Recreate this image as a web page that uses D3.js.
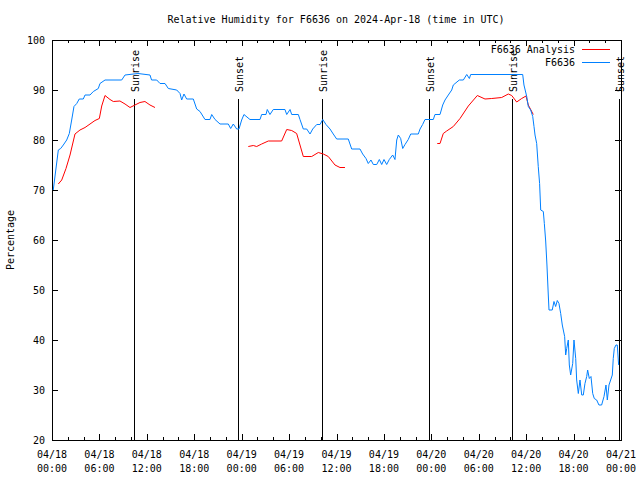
<!DOCTYPE html>
<html><head><meta charset="utf-8">
<script src="https://cdn.jsdelivr.net/npm/d3@7"></script>
<style>
body{margin:0;background:#fff;}
svg text{font-family:"DejaVu Sans Mono",monospace;font-size:10px;fill:#000;}
</style></head>
<body><svg id="c" width="640" height="480"></svg>
<script>
// ---- data (hours since 2024-04-18 00:00 UTC) ----
const titleText = "Relative Humidity for F6636 on 2024-Apr-18 (time in UTC)";
const yTicks = [20,30,40,50,60,70,80,90,100];
const xTickHours = [0,6,12,18,24,30,36,42,48,54,60,66,72];
const sunHours = [10.43, 23.66, 34.29, 47.74, 58.33, 71.83];
const sunLabels = ["Sunrise","Sunset","Sunrise","Sunset","Sunrise","Sunset"];

const obsHours = [0.16,0.8,1.1,1.43,1.86,2.19,2.49,2.78,3.13,3.45,3.96,4.18,4.81,5.23,5.86,6.07,6.71,8.82,9.24,10.88,12.4,12.6,13.25,13.67,14.3,14.72,15.78,16.2,16.41,16.7,17.04,17.88,18.31,18.73,19.36,19.99,20.21,20.63,21.26,22.31,22.61,22.94,23.37,23.66,24.0,24.29,25.05,26.32,26.53,27.08,27.24,27.58,28.0,29.48,29.7,30.12,30.33,31.17,31.38,31.8,32.23,32.65,32.99,33.5,33.92,34.26,34.67,35.18,35.59,36.02,37.49,37.92,38.97,39.31,39.73,40.02,40.36,40.66,41.09,41.42,41.72,42.01,42.35,42.68,43.11,43.4,43.62,43.82,44.12,44.38,44.67,45.08,45.39,46.35,46.57,46.9,47.2,48.25,48.46,49.1,49.44,49.73,50.15,50.58,50.78,51.54,52.05,52.48,52.81,52.98,59.56,59.72,60.07,60.27,60.57,60.83,60.99,61.12,61.33,61.53,61.7,61.84,62.17,62.3,62.47,62.63,62.8,62.89,63.3,63.52,63.73,63.94,64.15,64.37,64.57,64.7,64.87,65.0,65.13,65.33,65.46,65.63,65.89,66.05,66.27,66.39,66.6,66.81,67.03,67.23,67.44,67.66,67.78,67.99,68.2,68.42,68.62,68.92,69.21,69.55,69.85,70.1,70.27,70.48,70.69,70.9,71.02,71.15,71.36,71.53,71.7];
const obsRH = [70,78,78.3,79,80,81.3,84,86.7,87.3,88.2,88.2,89,89,89.7,90.3,91.3,92,92,93,93.3,93,92,92,91.3,91.3,90.3,90,89.3,88,89.2,88.2,88.2,86.2,85.7,84.1,84.1,85.1,84.1,83.2,83.2,82.3,83.2,82.2,82.2,84,85.1,84.1,84.1,85.1,85.1,86.1,85.1,86.1,86.1,85.1,86.1,85.1,85.1,84.1,82.2,82.2,81.2,82.2,83.1,83.1,84.1,83.1,82.2,81.2,80.2,80.2,78.2,78.2,77.2,76.3,75.3,76,75.1,75.1,76.1,75.1,76.1,75.1,76.1,77,76.1,80,81,80.3,78.3,79.1,80.1,81.2,81.2,82.2,83.1,84.1,84.1,85.1,85.1,87,88,89,90,91,92,92,93.1,92.3,93.1,93.1,91,88.7,86.7,86,84.7,82.7,81,79.3,74.7,71.3,66,65.7,63.3,59.8,55,49,46,46,47.7,46.7,47.9,47.3,45.3,43,42,40.7,37,38.3,40,35,33,35.3,40,36.3,32,29.3,32,29,29,31.3,32.7,34,32.3,32.7,29.3,28.3,28,27,27,28.7,31,28,31,32,33,36.3,38.3,39,39,35];

// analysis: null marks a gap between runs
const anaHours = [0.8,1.23,1.77,2.28,2.91,3.54,4.18,4.81,5.44,5.99,6.29,6.71,7.34,7.76,8.6,9.24,9.87,10.5,11.13,11.76,12.4,13.03,
  18,
  24.84,25.47,25.9,26.53,27.37,29.06,29.7,30.33,30.96,31.38,31.8,32.86,33.7,34.33,34.96,35.81,36.44,37.07,
  42,
  48.75,49.1,49.51,49.94,50.78,51.63,52.68,53.82,54.79,55.64,56.9,57.74,58.17,58.8,59.43,59.98,60.27,60.9];
const anaRH = [71.2,72,74.3,77,81.2,82,82.5,83.2,83.9,84.3,86.8,88.9,88.1,87.7,87.8,87.2,86.5,87,87.5,87.7,87,86.5,
  null,
  78.7,78.9,78.7,79.2,79.8,79.8,82.1,81.9,81.3,79,76.7,76.7,77.5,77.2,76.7,75,74.5,74.5,
  null,
  79.3,79.3,81.3,81.8,82.7,84.3,86.8,88.9,88.2,88.3,88.5,89.2,88.9,87.6,88.3,88.8,87,85.1];

const seriesNames = ["F6636 Analysis","F6636"];
const seriesColors = ["#ff0000","#0080ff"];

// ---- drawing ----
const t0 = Date.UTC(2024,3,18,0,0);
const toDate = h => new Date(t0 + h*3600000);
const W=640,H=480, L=52, R=621, T=40, B=440;
const svg = d3.select("#c");
const x = d3.scaleUtc().domain([toDate(0), toDate(72)]).range([L, R]);
const y = d3.scaleLinear().domain([20,100]).range([B, T]);

svg.append("text").attr("x", 336).attr("y", 23).attr("text-anchor","middle").text(titleText);

const g = svg.append("g").attr("shape-rendering","crispEdges");

// minor x ticks (every 2h) bottom & top
const minorDates = d3.range(0,73,2).map(toDate);
const majorDates = xTickHours.map(toDate);
g.append("g").attr("transform",`translate(0,${B})`)
  .call(d3.axisTop(x).tickValues(minorDates).tickSize(3).tickFormat(""))
  .call(a=>a.select(".domain").remove());
g.append("g").attr("transform",`translate(0,${T})`)
  .call(d3.axisBottom(x).tickValues(minorDates).tickSize(3).tickFormat(""))
  .call(a=>a.select(".domain").remove());
// major x ticks
const fmtD = d3.utcFormat("%m/%d"), fmtT = d3.utcFormat("%H:%M");
const xb = g.append("g").attr("transform",`translate(0,${B})`)
  .call(d3.axisTop(x).tickValues(majorDates).tickSize(6).tickFormat(""))
  .call(a=>a.select(".domain").remove());
g.append("g").attr("transform",`translate(0,${T})`)
  .call(d3.axisBottom(x).tickValues(majorDates).tickSize(6).tickFormat(""))
  .call(a=>a.select(".domain").remove());
const xl = svg.append("g");
majorDates.forEach(d=>{
  const t = xl.append("text").attr("x", x(d)).attr("text-anchor","middle");
  t.append("tspan").attr("x", x(d)).attr("y", 458).text(fmtD(d));
  t.append("tspan").attr("x", x(d)).attr("y", 472).text(fmtT(d));
});

// y ticks left & right
g.append("g").attr("transform",`translate(${L},0)`)
  .call(d3.axisRight(y).tickValues(yTicks).tickSize(6).tickFormat(""))
  .call(a=>a.select(".domain").remove());
g.append("g").attr("transform",`translate(${R},0)`)
  .call(d3.axisLeft(y).tickValues(yTicks).tickSize(6).tickFormat(""))
  .call(a=>a.select(".domain").remove());
yTicks.forEach(v=>{
  svg.append("text").attr("x", 45).attr("y", y(v)).attr("dy","0.35em")
    .attr("text-anchor","end").text(v);
});
svg.append("text").attr("transform","translate(14,240) rotate(-90)")
  .attr("text-anchor","middle").text("Percentage");

// frame
g.append("rect").attr("x",L).attr("y",T).attr("width",R-L).attr("height",B-T)
  .attr("fill","none").attr("stroke","#000");

// sunrise / sunset
sunHours.forEach((h,i)=>{
  const xx = x(toDate(h));
  g.append("line").attr("x1",xx).attr("x2",xx).attr("y1",99).attr("y2",B)
    .attr("stroke","#000");
  svg.append("text").attr("transform",`translate(${xx+1},92) rotate(-90)`)
    .attr("dy","0.35em").attr("text-anchor","start").text(sunLabels[i]);
});

// series
const lineGen = d3.line().defined(d=>d[1]!==null)
  .x(d=>x(toDate(d[0]))).y(d=>y(d[1]));
const plot = svg.append("g").attr("fill","none").attr("stroke-width",1);
plot.append("path").datum(anaHours.map((h,i)=>[h,anaRH[i]]))
  .attr("d", lineGen).attr("stroke", seriesColors[0]);
plot.append("path").datum(obsHours.map((h,i)=>[h,obsRH[i]]))
  .attr("d", lineGen).attr("stroke", seriesColors[1]);

// legend
seriesNames.forEach((n,i)=>{
  const yy = 49.5 + i*13;
  svg.append("text").attr("x",575).attr("y",yy).attr("dy","0.35em")
    .attr("text-anchor","end").text(n);
  svg.append("line").attr("x1",582).attr("x2",610).attr("y1",yy).attr("y2",yy)
    .attr("stroke",seriesColors[i]).attr("shape-rendering","crispEdges");
});
</script></body></html>
